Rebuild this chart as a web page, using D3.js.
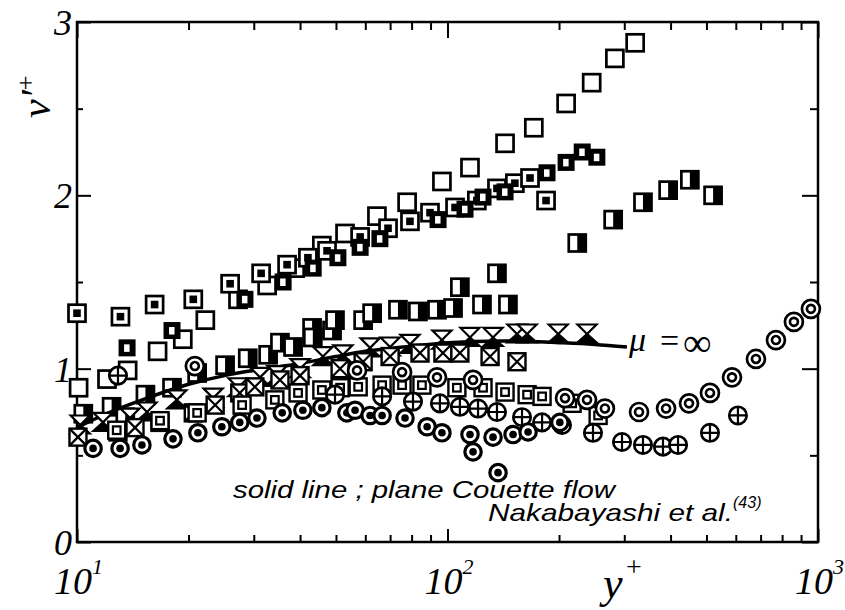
<!DOCTYPE html>
<html>
<head>
<meta charset="utf-8">
<script src="https://cdn.jsdelivr.net/npm/d3@7"></script>
<style>
body { margin: 0; background: #fff; }
</style>
</head>
<body>
<div id="chart"></div>
<script>
// values: [y+, v'+]
var openSquare = [[10.1,0.89],[12.05,0.94],[13.7,0.99],[16.5,1.10],[19.3,1.17],[22.2,1.28],[27.2,1.40],[32.6,1.48],[38.8,1.58],[45.8,1.71],[52.9,1.78],[64.5,1.88],[77.8,1.96],[96.6,2.08],[115,2.16],[143,2.30],[171,2.39],[209,2.53],[245,2.65],[283,2.79],[321,2.88]];
var dotSquare = [[10.0,1.32],[13.1,1.30],[16.2,1.37],[20.6,1.40],[25.9,1.49],[31.4,1.55],[36.9,1.60],[42.0,1.64],[47.3,1.68],[58.1,1.76],[69.1,1.81],[79.2,1.85],[89.7,1.90],[104.8,1.93],[120,1.97],[136,2.04],[152,2.07],[167,2.10],[184.5,1.97]];
var thickSquare = [[13.65,1.12],[18.05,1.22],[28.4,1.40],[36.0,1.50],[43.4,1.58],[50.6,1.64],[58.1,1.70],[65.7,1.75],[94.3,1.86],[111.5,1.92],[124.7,1.99],[143,2.02],[185.6,2.13],[209,2.19],[231,2.25],[253,2.22]];
var halfSquare = [[10.4,0.74],[12.4,0.78],[13.5,0.72],[15.3,0.85],[18.05,0.89],[21.1,0.975],[25.1,1.02],[28.9,1.06],[32.8,1.08],[35.3,1.15],[38.3,1.125],[43.1,1.235],[43.3,1.18],[48.8,1.22],[49.7,1.28],[59.2,1.28],[62.6,1.32],[73.5,1.34],[83.2,1.33],[93.7,1.34],[103.5,1.35],[108,1.47],[123.9,1.37],[136,1.55],[145.6,1.37],[224,1.725],[280,1.86],[337,1.96],[394,2.03],[451,2.09],[521,2.00]];
var hourglass = [[10.2,0.675],[11.75,0.69],[13.9,0.715],[15.45,0.75],[18.6,0.82],[23.3,0.83],[27.2,0.89],[31.2,0.95],[34.7,0.96],[40.0,1.00],[46.1,1.07],[52.2,1.08],[61.8,1.12],[70.0,1.125],[79.2,1.14],[96.6,1.165],[115,1.18],[132.7,1.18],[154,1.20],[164,1.20],[199,1.20],[238,1.20]];
var xSquare = [[10.06,0.605],[12.9,0.635],[14.34,0.66],[16.75,0.69],[20.6,0.745],[23.6,0.79],[27.5,0.86],[30.2,0.895],[35.3,0.935],[40.0,0.96],[51.3,1.00],[59.2,1.04],[70.0,1.07],[84.3,1.09],[97.2,1.09],[108,1.09],[130.3,1.07],[154,1.04]];
var squareInSquare = [[12.8,0.645],[16.75,0.70],[21.1,0.745],[27.9,0.79],[34.2,0.82],[39.5,0.86],[45.8,0.877],[51.3,0.89],[57.4,0.895],[66.6,0.905],[75.4,0.905],[85.3,0.905],[106,0.89],[124.7,0.89],[143,0.865],[164,0.85],[180,0.84],[217,0.80],[255,0.73]];
var circlePlus = [[12.9,0.96],[49.7,0.85],[66.6,0.84],[80.7,0.81],[95.4,0.80],[108,0.78],[120.9,0.77],[136,0.75],[158.9,0.72],[180,0.69],[203.7,0.675],[247,0.63],[295.8,0.577],[337,0.56],[381.6,0.55],[419,0.56],[511,0.63],[608,0.73]];
var circleDot = [[11.05,0.54],[13.07,0.54],[14.97,0.56],[18.16,0.595],[21.2,0.63],[24.6,0.665],[27.5,0.69],[30.6,0.715],[35.8,0.745],[40.7,0.76],[45.8,0.775],[53.5,0.745],[56.3,0.76],[61.8,0.73],[66.6,0.73],[76.8,0.715],[88.1,0.665],[96.6,0.63],[115,0.62],[132.7,0.605],[150.3,0.62],[165,0.635],[201,0.69],[117.2,0.52],[136.9,0.40]];
var doubleCircle = [[20.8,1.015],[57.0,0.99],[75.4,0.98],[93.7,0.95],[117.2,0.935],[207.6,0.83],[238,0.82],[266,0.77],[328.8,0.75],[389,0.77],[448.6,0.80],[511,0.86],[586,0.95],[680,1.056],[770,1.165],[861,1.27],[957,1.345]];
// plane Couette flow, mu = infinity
var couetteLine = [[10,0.66],[12,0.74],[15,0.82],[20,0.91],[25,0.96],[30,0.99],[40,1.03],[50,1.07],[60,1.10],[80,1.13],[100,1.15],[140,1.16],[200,1.15],[250,1.14],[305,1.125]];

var xMajor = [10, 100, 1000];
var xExp = ["1", "2", "3"];
var xMinor = [20,30,40,50,60,70,80,90,200,300,400,500,600,700,800,900];
var yMajor = [0, 1, 2, 3];
var yMinor = [0.5, 1.5, 2.5];

var w = 845, h = 610;
var plotL = 77, plotR = 818, plotT = 22, plotB = 542;

var x = d3.scaleLog().domain([10, 1000]).range([plotL, plotR]);
var y = d3.scaleLinear().domain([0, 3]).range([plotB, plotT]);

var svg = d3.select("#chart").append("svg")
    .attr("width", w)
    .attr("height", h);

var serif = "'Liberation Serif', 'Times New Roman', serif";
var sans = "'Liberation Sans', Arial, sans-serif";

// ticks, all pointing inward
function ticks(axis, pos, vals, len) {
  svg.append("g")
    .attr("transform", pos)
    .call(axis.tickValues(vals).tickSize(len).tickFormat(""))
    .call(function(g) { g.select(".domain").remove(); })
    .selectAll("line").attr("stroke", "#000").attr("stroke-width", 2);
}
ticks(d3.axisBottom(x), "translate(0," + plotB + ")", xMajor, -13);
ticks(d3.axisBottom(x), "translate(0," + plotB + ")", xMinor, -7);
ticks(d3.axisTop(x), "translate(0," + plotT + ")", xMajor, -16);
ticks(d3.axisTop(x), "translate(0," + plotT + ")", xMinor, -8);
ticks(d3.axisLeft(y), "translate(" + plotL + ",0)", yMajor, -14);
ticks(d3.axisLeft(y), "translate(" + plotL + ",0)", yMinor, -6);
ticks(d3.axisRight(y), "translate(" + plotR + ",0)", yMajor, -16);
ticks(d3.axisRight(y), "translate(" + plotR + ",0)", yMinor, -8);

svg.append("rect")
  .attr("x", plotL).attr("y", plotT)
  .attr("width", plotR - plotL).attr("height", plotB - plotT)
  .attr("fill", "none").attr("stroke", "#000").attr("stroke-width", 2.5);

// tick labels
svg.selectAll("text.ylab")
  .data(yMajor).enter().append("text")
  .attr("x", 72)
  .attr("y", function(d) { return y(d) + 13; })
  .attr("text-anchor", "end")
  .attr("font-family", serif).attr("font-style", "italic").attr("font-size", "36px")
  .text(function(d) { return d; });

svg.selectAll("text.xlab")
  .data(xMajor).enter().append("text")
  .attr("x", function(d) { return x(d) - 4; })
  .attr("y", 594)
  .attr("text-anchor", "middle")
  .attr("font-family", serif).attr("font-style", "italic").attr("font-size", "38px")
  .text("10");
svg.selectAll("text.xexp")
  .data(xMajor).enter().append("text")
  .attr("x", function(d) { return x(d) + 15; })
  .attr("y", 574)
  .attr("font-family", serif).attr("font-style", "italic").attr("font-size", "22px")
  .text(function(d, i) { return xExp[i]; });

// axis titles
svg.append("text")
  .attr("x", 603).attr("y", 598)
  .attr("font-family", serif).attr("font-style", "italic").attr("font-size", "44px")
  .text("y");
svg.append("text")
  .attr("x", 626).attr("y", 576)
  .attr("font-family", serif).attr("font-size", "28px")
  .text("+");

var ylabel = svg.append("text")
  .attr("transform", "translate(50,118) rotate(-90)")
  .attr("font-family", serif).attr("font-style", "italic").attr("font-size", "42px");
ylabel.append("tspan").text("\u03bd\u2032");
ylabel.append("tspan").attr("dy", -16).attr("font-size", "26px").attr("font-style", "normal").text("+");

// solid line
var line = d3.line()
  .x(function(d) { return x(d[0]); })
  .y(function(d) { return y(d[1]); })
  .curve(d3.curveMonotoneX);

// marker drawers
var s = 8.5;
function plot(data, draw) {
  var g = svg.append("g").selectAll("g")
    .data(data).enter().append("g")
    .attr("transform", function(d) { return "translate(" + x(d[0]) + "," + y(d[1]) + ")"; });
  draw(g);
}
function box(g, sw) {
  g.append("rect").attr("x", -s).attr("y", -s).attr("width", 2 * s).attr("height", 2 * s)
    .attr("fill", "#fff").attr("stroke", "#000").attr("stroke-width", sw || 2.7);
}
function ring(g, r, sw) {
  g.append("circle").attr("r", r)
    .attr("fill", "#fff").attr("stroke", "#000").attr("stroke-width", sw || 2.7);
}

plot(openSquare, function(g) { box(g); });
plot(dotSquare, function(g) {
  box(g);
  g.append("rect").attr("x", -3.8).attr("y", -3.8).attr("width", 7.6).attr("height", 7.6).attr("fill", "#000");
});
plot(thickSquare, function(g) {
  g.append("rect").attr("x", -s).attr("y", -s).attr("width", 2 * s).attr("height", 2 * s).attr("fill", "#000");
  g.append("rect").attr("x", -3).attr("y", -3.5).attr("width", 5.5).attr("height", 7.5).attr("fill", "#fff");
});
plot(halfSquare, function(g) {
  box(g);
  g.append("rect").attr("x", 0).attr("y", -s).attr("width", s).attr("height", 2 * s).attr("fill", "#000");
});

svg.append("path")
  .datum(couetteLine)
  .attr("d", line)
  .attr("fill", "none").attr("stroke", "#000").attr("stroke-width", 3.5);

plot(hourglass, function(g) {
  g.append("path").attr("d", "M-9.5,-9.5L9.5,-9.5L0,0Z")
    .attr("fill", "#fff").attr("stroke", "#000").attr("stroke-width", 2.2);
  g.append("path").attr("d", "M0,0L-9.5,8.5L9.5,8.5Z")
    .attr("fill", "#000").attr("stroke", "#000").attr("stroke-width", 2.2);
});
plot(xSquare, function(g) {
  box(g, 2.4);
  g.append("path").attr("d", "M-8,-8L8,8M8,-8L-8,8").attr("stroke", "#000").attr("stroke-width", 2.2);
});
plot(squareInSquare, function(g) {
  box(g, 2.4);
  g.append("rect").attr("x", -3.8).attr("y", -3.8).attr("width", 7.6).attr("height", 7.6)
    .attr("fill", "none").attr("stroke", "#000").attr("stroke-width", 2.2);
});
plot(doubleCircle, function(g) {
  ring(g, 9);
  g.append("circle").attr("r", 4).attr("fill", "none").attr("stroke", "#000").attr("stroke-width", 2.6);
});
plot(circlePlus, function(g) {
  ring(g, 8.7);
  g.append("path").attr("d", "M-8.5,0H8.5M0,-8.5V8.5").attr("stroke", "#000").attr("stroke-width", 2.2);
});
plot(circleDot, function(g) {
  ring(g, 8.2, 3.2);
  g.append("circle").attr("r", 3.8).attr("fill", "#000");
});

// mu = infinity label
svg.append("text")
  .attr("x", 629).attr("y", 351)
  .attr("font-family", serif).attr("font-style", "italic").attr("font-size", "34px")
  .text("\u03bc");
svg.append("text")
  .attr("x", 660).attr("y", 352)
  .attr("font-family", serif).attr("font-size", "34px")
  .text("=");
svg.append("text")
  .attr("x", 683).attr("y", 356)
  .attr("font-family", serif).attr("font-size", "40px")
  .text("\u221e");

// annotations
svg.append("text")
  .attr("x", 233).attr("y", 498)
  .attr("font-family", sans).attr("font-style", "italic").attr("font-size", "24px")
  .attr("textLength", 382).attr("lengthAdjust", "spacingAndGlyphs")
  .text("solid line ; plane Couette flow");
var ref = svg.append("text")
  .attr("x", 488).attr("y", 521)
  .attr("font-family", sans).attr("font-style", "italic").attr("font-size", "24px");
ref.append("tspan")
  .attr("textLength", 245).attr("lengthAdjust", "spacingAndGlyphs")
  .text("Nakabayashi et al.");
ref.append("tspan").attr("dy", -13).attr("font-size", "16px").text("(43)");
</script>
</body>
</html>
